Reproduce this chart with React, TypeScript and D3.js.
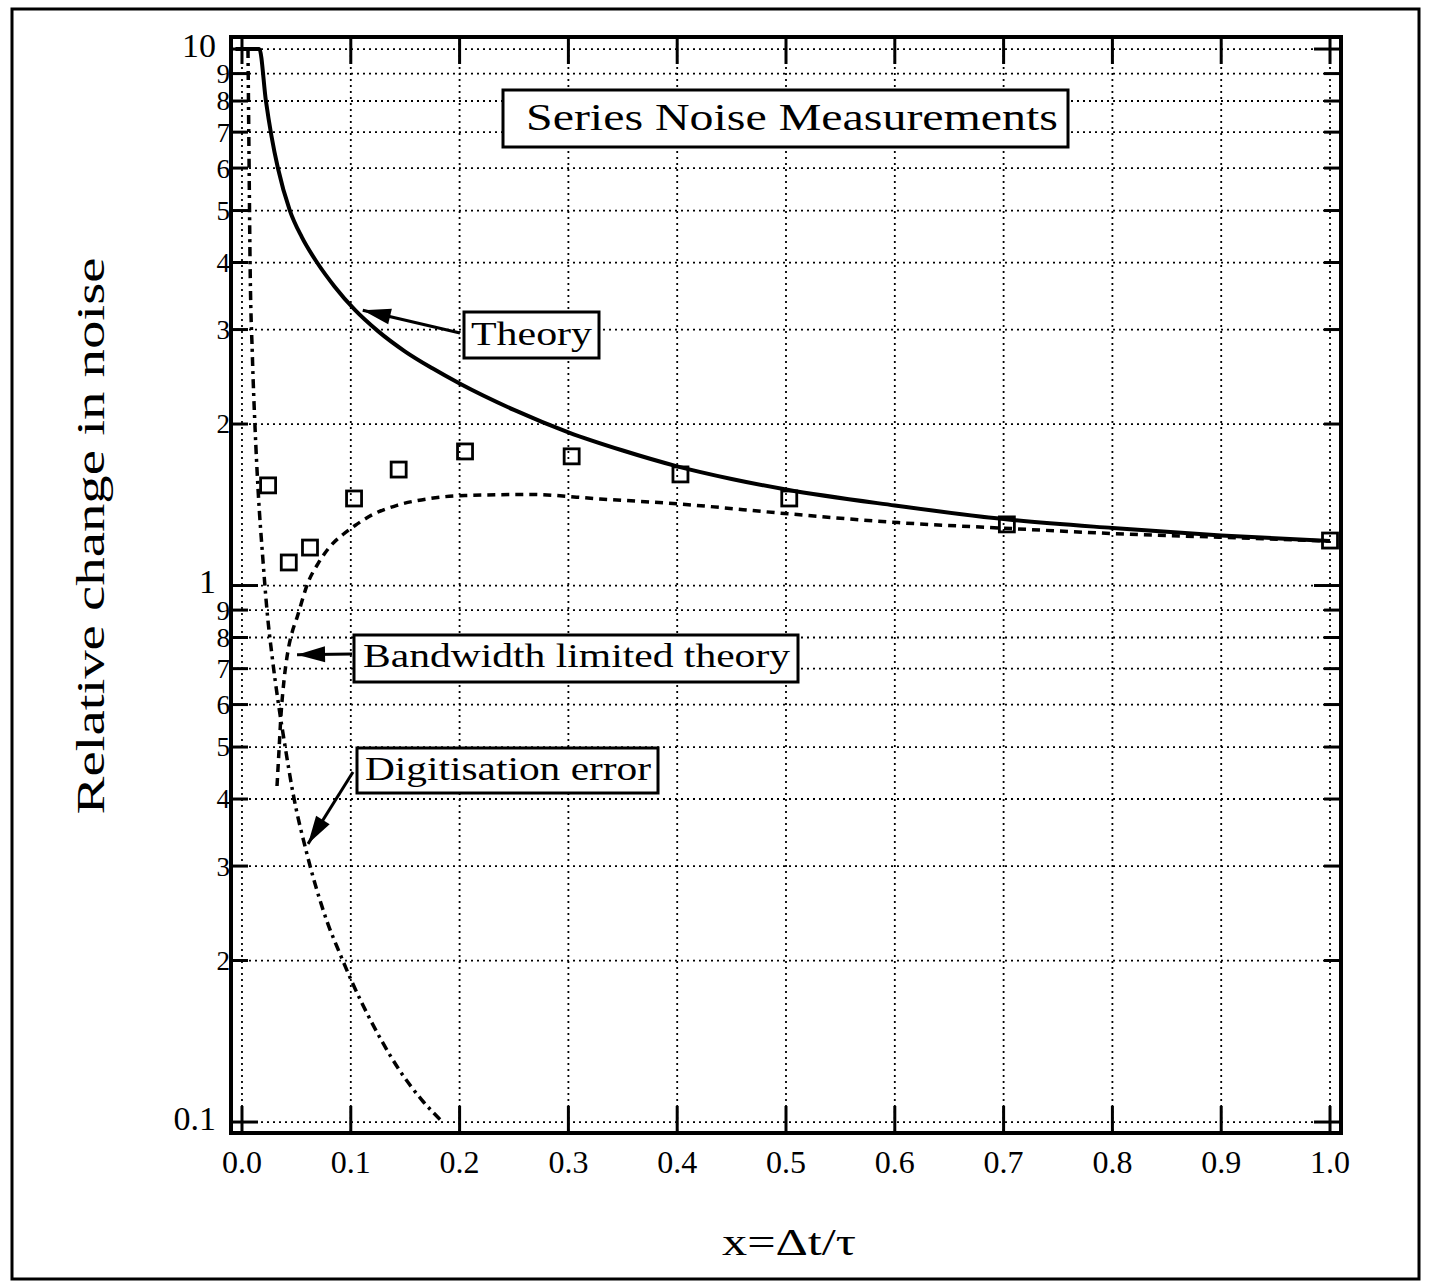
import React from "react";
import * as d3 from "d3";

// ---------- data ----------
const xTickValues = [0, 0.1, 0.2, 0.3, 0.4, 0.5, 0.6, 0.7, 0.8, 0.9, 1.0];
const xTickLabels = ["0.0", "0.1", "0.2", "0.3", "0.4", "0.5", "0.6", "0.7", "0.8", "0.9", "1.0"];
const yMajorValues = [0.1, 1, 10];
const yMajorLabels = ["0.1", "1", "10"];
const yMinorValues = [0.2, 0.3, 0.4, 0.5, 0.6, 0.7, 0.8, 0.9, 2, 3, 4, 5, 6, 7, 8, 9];
const yMinorLabels = ["2", "3", "4", "5", "6", "7", "8", "9", "2", "3", "4", "5", "6", "7", "8", "9"];

const theoryX = [-0.006, 0.016, 0.022, 0.027, 0.033, 0.044, 0.055, 0.069, 0.085, 0.104, 0.125, 0.15, 0.175, 0.2, 0.25, 0.3, 0.35, 0.4, 0.45, 0.5, 0.6, 0.7, 0.8, 0.9, 1.0];
const theoryY = [10, 10, 8, 6.9, 6, 5, 4.46, 4.0, 3.61, 3.26, 2.98, 2.73, 2.54, 2.38, 2.125, 1.93, 1.785, 1.668, 1.58, 1.51, 1.41, 1.33, 1.28, 1.24, 1.21];

const bandX = [0.0322, 0.034, 0.0358, 0.0386, 0.0423, 0.046, 0.0506, 0.0607, 0.0699, 0.0809, 0.0928, 0.1039, 0.1204, 0.1425, 0.1728, 0.205, 0.2647, 0.329, 0.4, 0.503, 0.603, 0.697, 0.8, 0.9, 1.0];
const bandY = [0.423, 0.492, 0.572, 0.665, 0.756, 0.817, 0.872, 1.013, 1.099, 1.182, 1.245, 1.294, 1.357, 1.411, 1.453, 1.472, 1.478, 1.45, 1.42, 1.36, 1.31, 1.28, 1.25, 1.23, 1.21];

const digitX = [0.0055, 0.0064, 0.0074, 0.0095, 0.012, 0.0147, 0.0193, 0.023, 0.0276, 0.0331, 0.0395, 0.0469, 0.0597, 0.078, 0.09, 0.1008, 0.11, 0.1268, 0.1452, 0.1652, 0.1835];
const digitY = [10, 6.5, 4.04, 2.7, 1.97, 1.52, 1.113, 0.898, 0.74, 0.61, 0.503, 0.41, 0.316, 0.237, 0.206, 0.183, 0.167, 0.1436, 0.1245, 0.11, 0.1004];

const measX = [0.024, 0.043, 0.0625, 0.103, 0.144, 0.205, 0.303, 0.403, 0.503, 0.703, 1.0];
const measY = [1.537, 1.104, 1.177, 1.453, 1.645, 1.778, 1.741, 1.611, 1.453, 1.30, 1.213];

const FONT = "'Liberation Serif', 'Times New Roman', serif";

function arrowHead(tx: number, ty: number, fx: number, fy: number, len = 28, half = 8) {
  const dx = tx - fx, dy = ty - fy;
  const L = Math.hypot(dx, dy);
  const ux = dx / L, uy = dy / L;
  const bx = tx - ux * len, by = ty - uy * len;
  const px = -uy, py = ux;
  return `M${tx},${ty} L${bx + px * half},${by + py * half} L${bx - px * half},${by - py * half} Z`;
}

export default function App() {
  const W = 1429, H = 1288;
  const x = d3.scaleLinear().domain([-0.0101, 1.0101]).range([231, 1341]);
  const y = d3.scaleLog().domain([0.0954, 10.53]).range([1133, 37]);
  const [x0, x1] = x.range();
  const [yb, yt] = y.range();

  const lineGen = (xs: number[], ys: number[]) =>
    d3.line<number>().x((_, i) => x(xs[i])).y((_, i) => y(ys[i])).curve(d3.curveMonotoneX)(xs.map((_, i) => i)) || "";

  const majorLen = 27, minorLen = 17;
  const gridStyle = { stroke: "#000", strokeWidth: 1.8, strokeDasharray: "2 4" };

  const thTip = [x(0.111), y(3.26)];
  const thTail = [460, 333];
  const bwTip = [x(0.0506), y(0.743)];
  const bwTail = [352, 654];
  const dgTip = [x(0.0607), y(0.33)];
  const dgTail = [353, 772];

  return (
    <svg width={W} height={H} style={{ position: "absolute", left: 0, top: 0, background: "#fff" }} fontFamily={FONT}>
      <rect x={0} y={0} width={W} height={H} fill="#fff" />
      <rect x={12} y={9} width={1407} height={1270} fill="none" stroke="#000" strokeWidth={3} />

      {xTickValues.map((v) => (
        <line key={"gx" + v} x1={x(v)} x2={x(v)} y1={yt} y2={yb} style={gridStyle} />
      ))}
      {[...yMajorValues, ...yMinorValues].map((v) => (
        <line key={"gy" + v} x1={x0} x2={x1} y1={y(v)} y2={y(v)} style={gridStyle} />
      ))}

      {xTickValues.map((v) => (
        <g key={"tx" + v} stroke="#000" strokeWidth={3}>
          <line x1={x(v)} x2={x(v)} y1={yb} y2={yb - majorLen} />
          <line x1={x(v)} x2={x(v)} y1={yt} y2={yt + majorLen} />
        </g>
      ))}
      {yMajorValues.map((v) => (
        <g key={"tym" + v} stroke="#000" strokeWidth={3}>
          <line x1={x0} x2={x0 + majorLen} y1={y(v)} y2={y(v)} />
          <line x1={x1} x2={x1 - majorLen} y1={y(v)} y2={y(v)} />
        </g>
      ))}
      {yMinorValues.map((v) => (
        <g key={"tyn" + v} stroke="#000" strokeWidth={3}>
          <line x1={x0} x2={x0 + minorLen} y1={y(v)} y2={y(v)} />
          <line x1={x1} x2={x1 - minorLen} y1={y(v)} y2={y(v)} />
        </g>
      ))}

      <rect x={x0} y={yt} width={x1 - x0} height={yb - yt} fill="none" stroke="#000" strokeWidth={4} />

      {xTickValues.map((v, i) => (
        <text key={"lx" + v} x={x(v)} y={1173} textAnchor="middle" fontSize={32}>
          {xTickLabels[i]}
        </text>
      ))}
      {yMajorValues.map((v, i) => (
        <text key={"lym" + v} x={216} y={y(v) - 4} dy="0.35em" textAnchor="end" fontSize={34}>
          {yMajorLabels[i]}
        </text>
      ))}
      {yMinorValues.map((v, i) => (
        <text key={"lyn" + v} x={230} y={y(v)} dy="0.35em" textAnchor="end" fontSize={27}>
          {yMinorLabels[i]}
        </text>
      ))}

      <path d={lineGen(theoryX, theoryY)} fill="none" stroke="#000" strokeWidth={4} strokeLinejoin="round" />
      <path d={lineGen(bandX, bandY)} fill="none" stroke="#000" strokeWidth={3.5} strokeDasharray="8 6" />
      <path d={lineGen(digitX, digitY)} fill="none" stroke="#000" strokeWidth={3.5} strokeDasharray="9 5 3 5" />

      {measX.map((v, i) => (
        <rect key={"m" + i} x={x(v) - 7.5} y={y(measY[i]) - 7.5} width={15} height={15} fill="none" stroke="#000" strokeWidth={2.8} />
      ))}

      <rect x={503} y={90} width={565} height={57} fill="#fff" stroke="#000" strokeWidth={3} />
      <text x={526} y={130} fontSize={38} textLength={532} lengthAdjust="spacingAndGlyphs">Series Noise Measurements</text>

      <line x1={thTail[0]} y1={thTail[1]} x2={thTip[0]} y2={thTip[1]} stroke="#000" strokeWidth={3} />
      <path d={arrowHead(thTip[0], thTip[1], thTail[0], thTail[1])} fill="#000" />
      <rect x={464} y={312} width={135} height={46} fill="#fff" stroke="#000" strokeWidth={3} />
      <text x={471} y={345} fontSize={34} textLength={121} lengthAdjust="spacingAndGlyphs">Theory</text>

      <line x1={bwTail[0]} y1={bwTail[1]} x2={bwTip[0]} y2={bwTip[1]} stroke="#000" strokeWidth={3} />
      <path d={arrowHead(bwTip[0], bwTip[1], bwTail[0], bwTail[1])} fill="#000" />
      <rect x={354} y={635} width={444} height={47} fill="#fff" stroke="#000" strokeWidth={3} />
      <text x={363} y={667} fontSize={33} textLength={427} lengthAdjust="spacingAndGlyphs">Bandwidth limited theory</text>

      <line x1={dgTail[0]} y1={dgTail[1]} x2={dgTip[0]} y2={dgTip[1]} stroke="#000" strokeWidth={3} />
      <path d={arrowHead(dgTip[0], dgTip[1], dgTail[0], dgTail[1])} fill="#000" />
      <rect x={357} y={748} width={301} height={45} fill="#fff" stroke="#000" strokeWidth={3} />
      <text x={365} y={780} fontSize={33} textLength={286} lengthAdjust="spacingAndGlyphs">Digitisation error</text>

      <text x={789} y={1255} textAnchor="middle" fontSize={38} textLength={134} lengthAdjust="spacingAndGlyphs">x=Δt/τ</text>
      <text transform="translate(104,536) rotate(-90)" textAnchor="middle" fontSize={40} textLength={557} lengthAdjust="spacingAndGlyphs">
        Relative change in noise
      </text>
    </svg>
  );
}
